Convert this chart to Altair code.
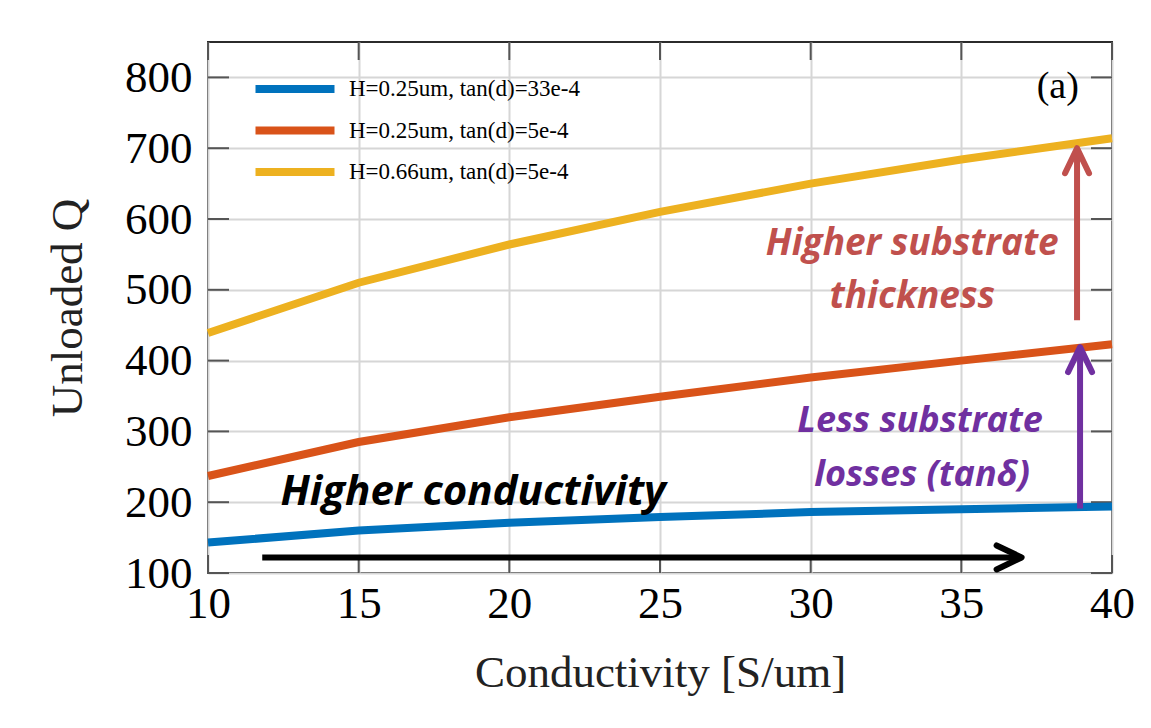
import altair as alt
import pandas as pd

# Unloaded Q versus conductivity for three substrate configurations
conductivity = [10, 15, 20, 25, 30, 35, 40]
q_h025_tan33 = [143, 160, 171, 179, 186, 190, 194]
q_h025_tan5 = [237, 285, 320, 349, 376, 400, 423]
q_h066_tan5 = [439, 510, 564, 610, 650, 684, 714]

series_labels = ["H=0.25um, tan(d)=33e-4", "H=0.25um, tan(d)=5e-4", "H=0.66um, tan(d)=5e-4"]
series_colors = ["#0072BD", "#D95319", "#EDB120"]

x_ticks = [10, 15, 20, 25, 30, 35, 40]
y_ticks = [100, 200, 300, 400, 500, 600, 700, 800]

# annotation arrows: start/end in data units, end is the tip
arrow_x0 = [11.8, 38.84, 38.94]
arrow_x1 = [37.0, 38.84, 38.94]
arrow_y0 = [122, 457, 191]
arrow_y1 = [122, 700, 419]
arrow_colors = ["#000000", "#C0504D", "#7030A0"]
arrow_angles = [90, 0, 0]

# annotation text lines
note_text = ["Higher conductivity", "Higher substrate", "thickness",
             "Less substrate", "losses (tanδ)"]
note_x = [18.8, 33.37, 33.37, 33.63, 33.7]
note_y = [214, 565, 490, 314, 239]
note_colors = ["#000000", "#C0504D", "#C0504D", "#7030A0", "#7030A0"]
note_sizes = [42, 37, 37, 36, 36]

W, H = 904, 531
SERIF = "Liberation Serif"
NOTE_FONT = "Open Sans"

rows = []
for label, values in zip(series_labels, [q_h025_tan33, q_h025_tan5, q_h066_tan5]):
    for c, q in zip(conductivity, values):
        rows.append({"Conductivity": c, "Q": q, "Series": label})
df = pd.DataFrame(rows)

x_scale = alt.Scale(domain=[10, 40], nice=False, zero=False)
y_scale = alt.Scale(domain=[100, 850], nice=False, zero=False)
x_axis = alt.Axis(values=x_ticks, title="Conductivity [S/um]", format="d")
y_axis = alt.Axis(values=y_ticks, title="Unloaded Q", format="d")

# a wide, short legend swatch: long line inside a small symbol box
lines = alt.Chart(df).mark_line(strokeWidth=8, strokeCap="butt").encode(
    x=alt.X("Conductivity:Q", scale=x_scale, axis=x_axis),
    y=alt.Y("Q:Q", scale=y_scale, axis=y_axis),
    color=alt.Color(
        "Series:N",
        scale=alt.Scale(domain=series_labels, range=series_colors),
        sort=series_labels,
        legend=alt.Legend(
            title=None,
            orient="none",
            legendX=73,
            legendY=33,
            symbolType="M -4 0 L 4 0",
            symbolSize=390,
            symbolStrokeWidth=8,
            labelFont=SERIF,
            labelFontSize=23,
            labelColor="#000000",
            labelOffset=40,
            labelLimit=0,
            rowPadding=9.5,
            padding=0,
        ),
    ),
)

# inward ticks on all four sides
xt = pd.DataFrame({"t": x_ticks})
yt = pd.DataFrame({"t": y_ticks})
tick_style = dict(color="#555555", strokeWidth=2)
top_ticks = alt.Chart(xt).mark_rule(**tick_style).encode(
    x=alt.X("t:Q", scale=x_scale, axis=x_axis), y=alt.value(0), y2=alt.value(18))
bottom_ticks = alt.Chart(xt).mark_rule(**tick_style).encode(
    x=alt.X("t:Q", scale=x_scale, axis=x_axis), y=alt.value(H - 18), y2=alt.value(H))
left_ticks = alt.Chart(yt).mark_rule(**tick_style).encode(
    y=alt.Y("t:Q", scale=y_scale, axis=y_axis), x=alt.value(0), x2=alt.value(21))
right_ticks = alt.Chart(yt).mark_rule(**tick_style).encode(
    y=alt.Y("t:Q", scale=y_scale, axis=y_axis), x=alt.value(W - 21), x2=alt.value(W))

layers = [top_ticks, bottom_ticks, left_ticks, right_ticks, lines]

for i in range(len(arrow_colors)):
    seg = pd.DataFrame({"x0": [arrow_x0[i]], "x1": [arrow_x1[i]],
                        "y0": [arrow_y0[i]], "y1": [arrow_y1[i]],
                        "ang": [arrow_angles[i]]})
    shaft = alt.Chart(seg).mark_rule(color=arrow_colors[i], strokeWidth=6).encode(
        x=alt.X("x0:Q", scale=x_scale, axis=x_axis), x2="x1:Q",
        y=alt.Y("y0:Q", scale=y_scale, axis=y_axis), y2="y1:Q")
    head = alt.Chart(seg).mark_point(
        shape="M -0.48 1 L 0 0 L 0.48 1", size=2500, filled=False,
        stroke=arrow_colors[i], strokeWidth=6, strokeCap="round",
        strokeJoin="round", opacity=1,
    ).encode(
        x=alt.X("x1:Q", scale=x_scale, axis=x_axis),
        y=alt.Y("y1:Q", scale=y_scale, axis=y_axis),
        angle=alt.Angle("ang:Q", scale=None))
    layers += [shaft, head]

for i in range(len(note_text)):
    nd = pd.DataFrame({"x": [note_x[i]], "y": [note_y[i]], "t": [note_text[i]]})
    layers.append(alt.Chart(nd).mark_text(
        font=NOTE_FONT, fontWeight="bold", fontStyle="italic",
        fontSize=note_sizes[i], color=note_colors[i], align="center",
        baseline="middle").encode(
        x=alt.X("x:Q", scale=x_scale, axis=x_axis),
        y=alt.Y("y:Q", scale=y_scale, axis=y_axis),
        text="t:N"))

panel = pd.DataFrame({"x": [38.2], "y": [786], "t": ["(a)"]})
layers.append(alt.Chart(panel).mark_text(
    font=SERIF, fontSize=38, color="#000000", align="center", baseline="middle"
).encode(x=alt.X("x:Q", scale=x_scale, axis=x_axis),
         y=alt.Y("y:Q", scale=y_scale, axis=y_axis), text="t:N"))

chart = alt.layer(*layers).properties(
    width=W, height=H,
    padding={"left": 208, "top": 42, "right": 39, "bottom": 155},
    autosize=alt.AutoSizeParams(type="none"),
    background="white",
).configure_view(
    stroke="#2b2b2b", strokeWidth=2,
).configure_axis(
    grid=True, gridColor="#d6d6d6", gridWidth=2,
    domain=False, ticks=False, labelFlush=False,
    labelFont=SERIF, labelFontSize=45, labelColor="#000000",
    titleFont=SERIF, titleFontSize=45, titleColor="#222222", titleFontWeight="normal",
).configure_axisX(
    labelPadding=8, titlePadding=24,
).configure_axisY(
    labelPadding=16, titlePadding=34,
)

chart.save("out.html", embed_options={"renderer": "svg", "actions": False})
